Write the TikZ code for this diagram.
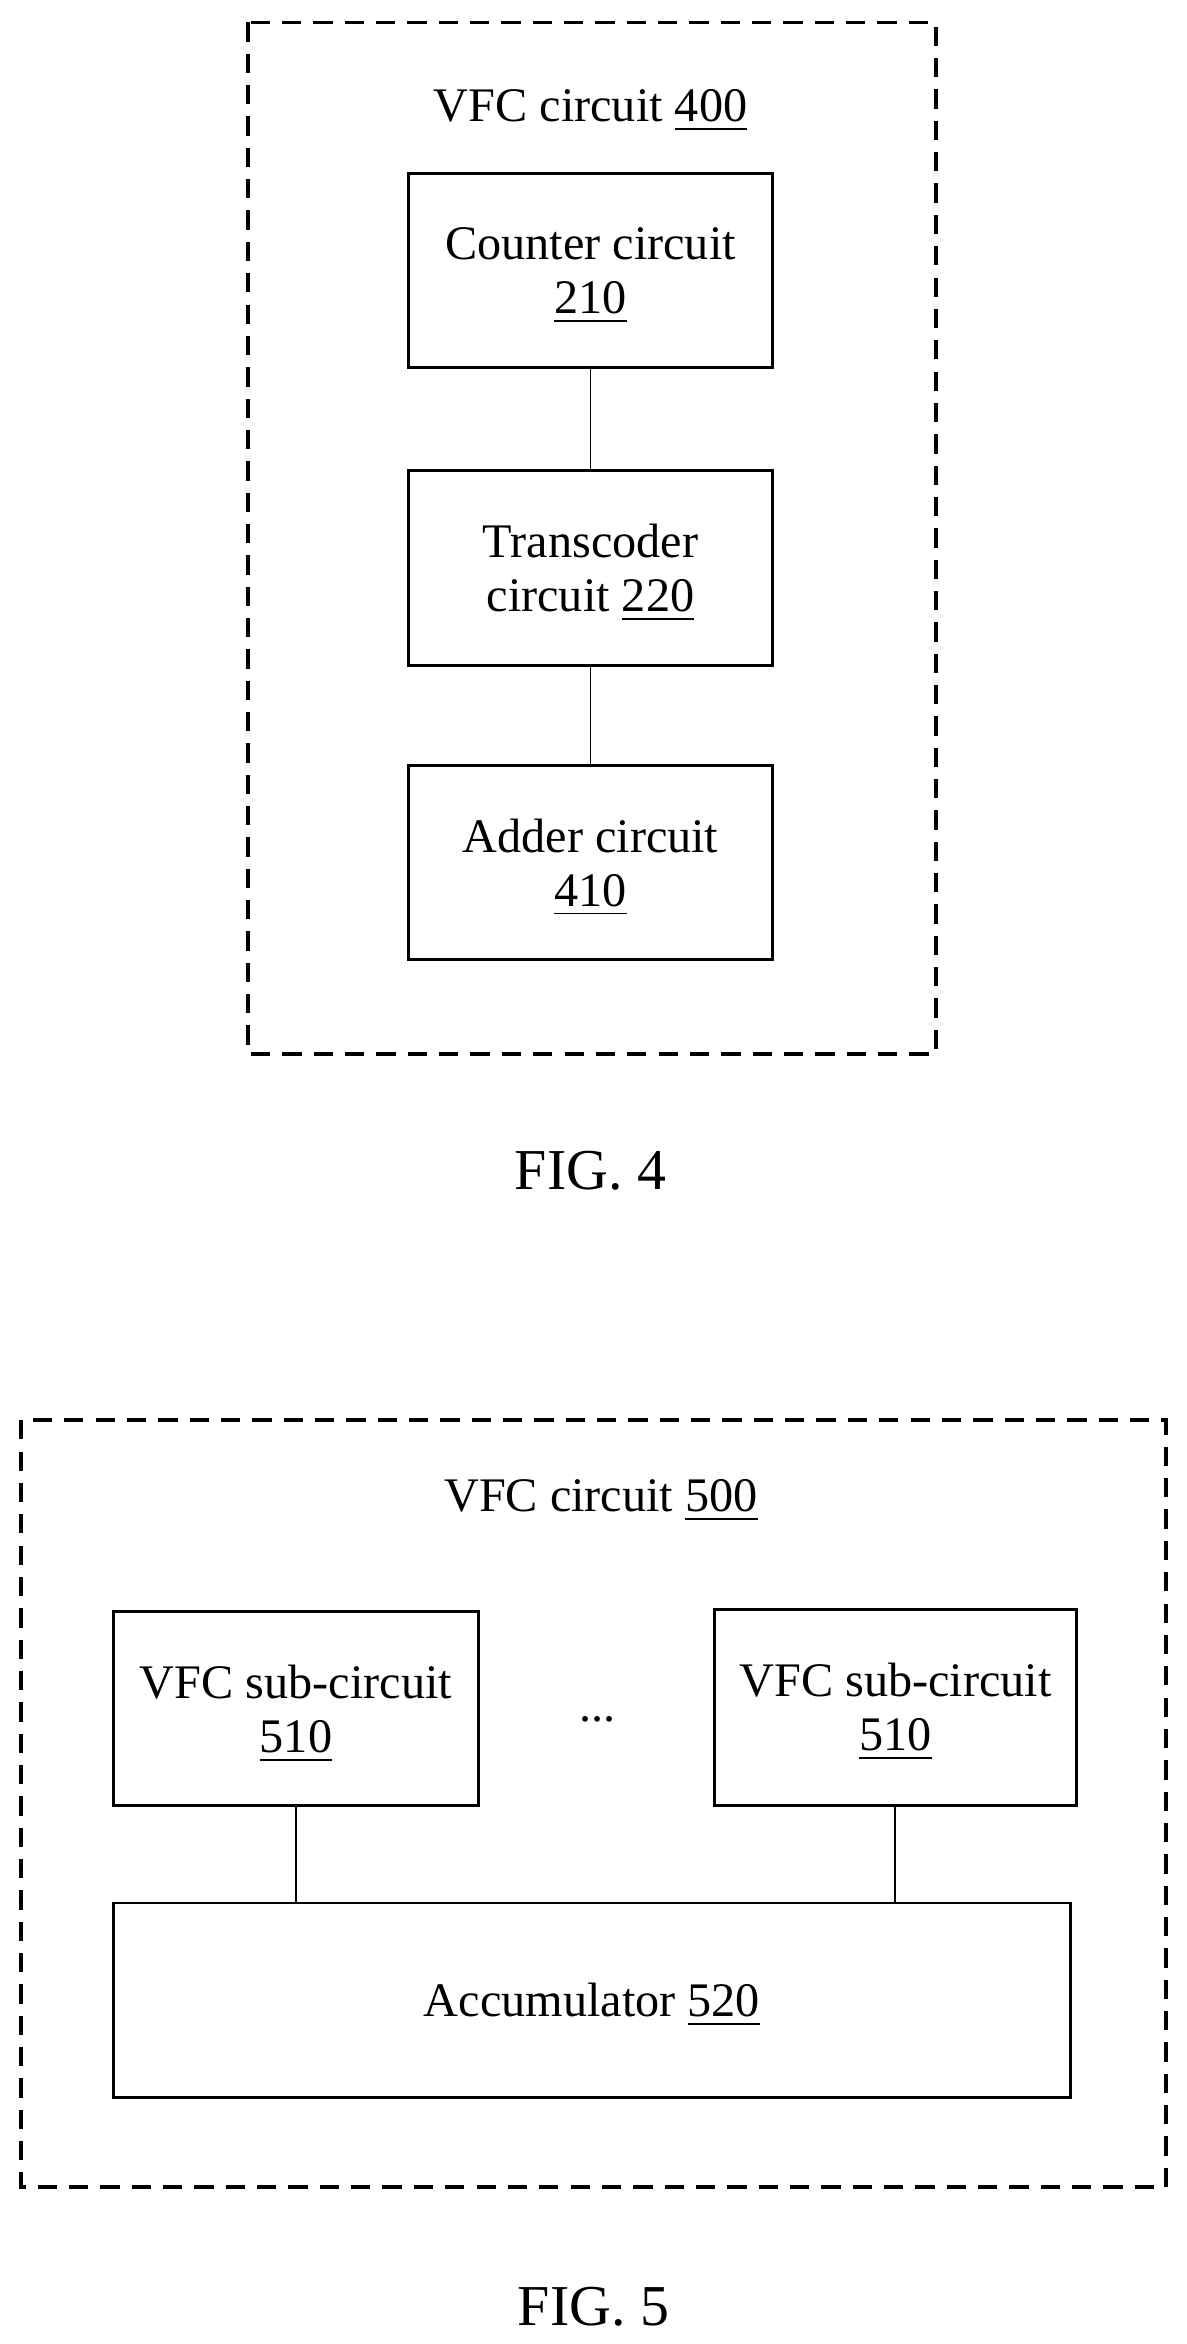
\documentclass[tikz,border=0pt]{standalone}
\usepackage{fontspec}
\setmainfont{Liberation Serif}
\usetikzlibrary{positioning}
\tikzset{
  blk/.style={draw, line width=0.6pt, align=center, inner sep=0pt, text depth=0pt},
  frame/.style={draw, dashed, line width=0.7pt, dash pattern=on 4pt off 2.5pt},
  lbl/.style={font=\fontsize{10}{11.2}\selectfont}
}
\begin{document}
\begin{tikzpicture}[x=0.31pt, y=-0.31pt, every node/.style={lbl}]
\useasboundingbox (0,0) rectangle (794,1568);
% FIG. 4
\draw[frame] (166,15) rectangle (626,705);
\node (t400) at (395,74) {VFC circuit \underline{400}};
\node[blk, minimum width=244*0.31pt, minimum height=130*0.31pt] (cnt) at (395,181) {Counter circuit\\\underline{210}};
\node[blk, minimum width=244*0.31pt, minimum height=130*0.31pt] (trc) at (395,380) {Transcoder\\circuit \underline{220}};
\node[blk, minimum width=244*0.31pt, minimum height=130*0.31pt] (add) at (395,577) {Adder circuit\\\underline{410}};
\draw (cnt) -- (trc);
\draw (trc) -- (add);
\node (f4) at (395,783) {\fontsize{12}{14}\selectfont FIG. 4};
% FIG. 5
\draw[frame] (14,950) rectangle (780,1463);
\node (t500) at (402,1004) {VFC circuit \underline{500}};
\node[blk, minimum width=244*0.31pt, minimum height=130*0.31pt] (subA) at (198,1143) {VFC sub-circuit\\\underline{510}};
\node[blk, minimum width=242*0.31pt, minimum height=131*0.31pt] (subB) at (599,1142) {VFC sub-circuit\\\underline{510}};
\node (dots) at (400,1150) {...};
\node[blk, minimum width=640*0.31pt, minimum height=130*0.31pt] (acc) at (396,1338) {Accumulator \underline{520}};
\draw (subA.south) -- (subA.south |- acc.north);
\draw (subB.south) -- (subB.south |- acc.north);
\node (f5) at (397,1543) {\fontsize{12}{14}\selectfont FIG. 5};
\end{tikzpicture}
\end{document}
